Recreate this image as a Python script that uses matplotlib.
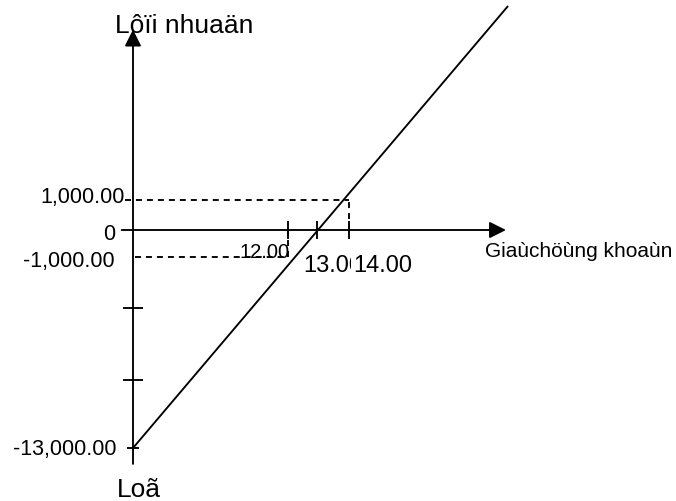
import numpy as np
import matplotlib
matplotlib.use("Agg")
import matplotlib.pyplot as plt

# ---- values shown on the break-even diagram ----
tick_prices = [12.0, 13.0, 14.0]
tick_price_labels = ["12.00", "13.00", "14.00"]
guide_profits = [1000, 0, -1000]
guide_profit_labels = ["1,000.00", "0", "-1,000.00"]
min_profit = -13000
min_profit_label = "-13,000.00"
minor_profit_ticks = [-4200, -8700]

# profit line: loss of 13,000 at price 0, rising through break-even at 13
line_price = [0.0, 25.5]
line_profit = [-13000, 12500]

# extent of the two axes (price axis, profit axis)
price_axis = [-0.8, 25.35]
profit_axis = [-14000, 11100]

title_profit = "Lôïi nhuaän"
title_price = "Giaùchöùng khoaùn"
title_loss = "Loã"

# ---- schematic (not-to-scale) scales: piecewise-linear mapping to pixels ----
W, H = 676, 502
x_knots = np.array([-40.0, 0.0, 12.0, 13.0, 14.0, 60.0])
x_pix = np.array([133 - 40 * 14.15, 133, 288, 317, 349, 349 + 46 * 13.83])
y_knots = np.array([-60000.0, -13000.0, -1000.0, 0.0, 1000.0, 60000.0])
y_pix_top = np.array([449 + 47000 * 0.0159, 449, 258, 231, 201, 201 - 59000 * 0.01687])


def x_fwd(v):
    return np.interp(np.asarray(v, float), x_knots, x_pix)


def x_inv(p):
    return np.interp(np.asarray(p, float), x_pix, x_knots)


def y_fwd(v):
    return H - np.interp(np.asarray(v, float), y_knots, y_pix_top)


def y_inv(p):
    return np.interp(H - np.asarray(p, float), y_pix_top[::-1], y_knots[::-1])


plt.rcParams["font.family"] = ["Liberation Sans", "DejaVu Sans"]
plt.rcParams["lines.scale_dashes"] = False

fig = plt.figure(figsize=(W / 100, H / 100), dpi=100)
ax = fig.add_axes([0, 0, 1, 1])
ax.set_xscale("function", functions=(x_fwd, x_inv))
ax.set_yscale("function", functions=(y_fwd, y_inv))
ax.set_xlim(float(x_inv(0)), float(x_inv(W)))
ax.set_ylim(float(y_inv(0)), float(y_inv(H)))
ax.axis("off")

lw = 1.35
dash = (0, (4.3, 3.6))
arrow = dict(arrowstyle="-|>,head_length=0.4,head_width=0.2", mutation_scale=25,
             lw=lw, color="black", shrinkA=0, shrinkB=0)

# axes with arrow heads
ax.annotate("", xy=(price_axis[1], 0), xytext=(price_axis[0], 0), arrowprops=arrow)
ax.annotate("", xy=(0, profit_axis[1]), xytext=(0, profit_axis[0]), arrowprops=arrow)

# dashed guides
ax.plot([-0.6, tick_prices[2]], [guide_profits[0]] * 2, color="black", lw=lw, ls=dash)
ax.plot([tick_prices[2]] * 2, [guide_profits[1], guide_profits[0]], color="black", lw=lw, ls=dash)
ax.plot([0.15, tick_prices[0]], [guide_profits[2]] * 2, color="black", lw=lw, ls=dash)
ax.plot([tick_prices[0]] * 2, [guide_profits[2], guide_profits[1]], color="black", lw=lw, ls=dash)

# tick marks
ax.plot(tick_prices, [0] * len(tick_prices), ls="none", marker="|", ms=13,
        mew=lw, color="black")
ax.plot([0] * len(minor_profit_ticks), minor_profit_ticks, ls="none", marker="_",
        ms=14.4, mew=lw, color="black")
ax.plot([0], [min_profit], ls="none", marker="_", ms=8.6, mew=lw, color="black")

# profit line
ax.plot(line_price, line_profit, color="black", lw=lw, solid_capstyle="butt")

# profit labels on the vertical axis
offs = [(-8, -2), (-18, -9), (-18, -9)]
for val, lab, off in zip(guide_profits, guide_profit_labels, offs):
    bb = dict(facecolor="white", edgecolor="none", pad=2.5) if val < 0 else None
    ax.annotate(lab, xy=(0, val), xytext=off, textcoords="offset pixels",
                ha="right", va="baseline", fontsize=15.5, bbox=bb, zorder=5)
ax.annotate(min_profit_label, xy=(0, min_profit), xytext=(-16, -6),
            textcoords="offset pixels", ha="right", va="baseline", fontsize=15.5, zorder=5)

# price labels on the horizontal axis
ax.annotate(tick_price_labels[0], xy=(tick_prices[0], 0), xytext=(2, -27),
            textcoords="offset pixels", ha="right", va="baseline", fontsize=14.5, zorder=5)
ax.annotate(tick_price_labels[1], xy=(tick_prices[1], 0), xytext=(-14, -41),
            textcoords="offset pixels", ha="left", va="baseline", fontsize=17, zorder=5)
ax.annotate(tick_price_labels[2], xy=(tick_prices[2], 0), xytext=(4, -41),
            textcoords="offset pixels", ha="left", va="baseline", fontsize=17, zorder=6,
            bbox=dict(facecolor="white", edgecolor="none", pad=1.5))

# axis titles
ax.annotate(title_price, xy=(price_axis[1], 0), xytext=(-21, -26),
            textcoords="offset pixels", ha="left", va="baseline", fontsize=15)
ax.annotate(title_profit, xy=(0, profit_axis[1]), xytext=(-18, -2),
            textcoords="offset pixels", ha="left", va="baseline", fontsize=19)
ax.annotate(title_loss, xy=(0, profit_axis[0]), xytext=(-16, -32),
            textcoords="offset pixels", ha="left", va="baseline", fontsize=19)

fig.savefig("out.png", dpi=100)
